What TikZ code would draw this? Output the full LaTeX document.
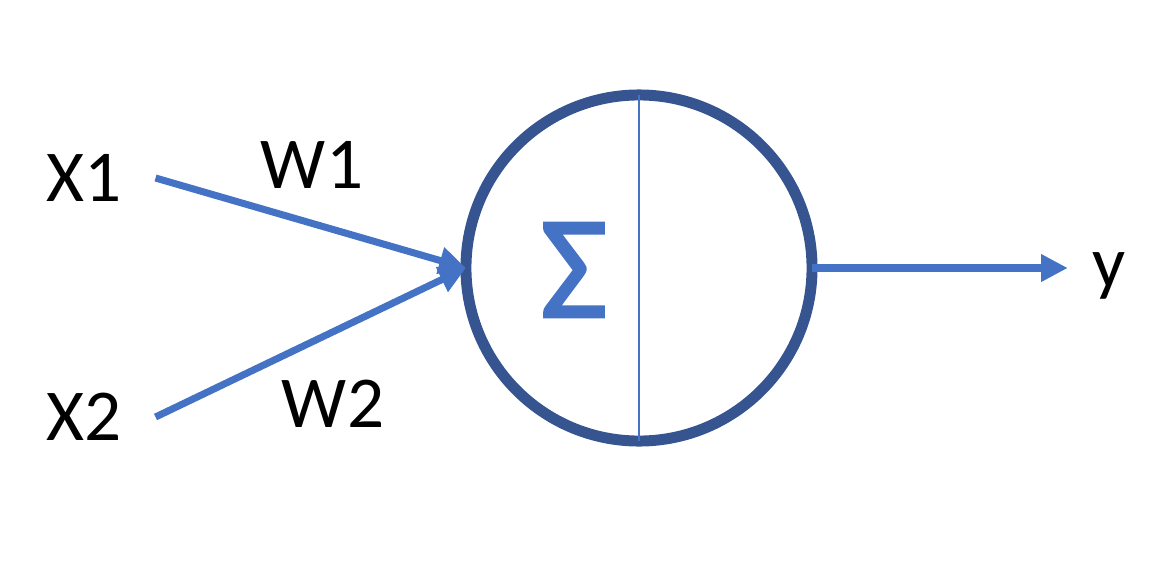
\documentclass[tikz,border=0pt]{standalone}
\usepackage{fontspec}
\setmainfont{Carlito}
\newfontface\sigface{Carlito}[FakeBold=2]
\usetikzlibrary{arrows.meta}

\definecolor{wireblue}{HTML}{4472C4}
\definecolor{ringblue}{HTML}{365590}

\tikzset{
  lbl/.style={font=\fontsize{52}{60}\selectfont, text=black},
  inlbl/.style={lbl, inner xsep=24pt},
  wire/.style={wireblue, line width=5pt, -{Triangle[length=19pt,width=18.5pt]}},
  neuron/.style={circle, draw=ringblue, line width=7.8pt, minimum size=8.65cm, outer sep=0pt}
}

\begin{document}
\begin{tikzpicture}[x=0.025cm, y=-0.025cm]
% Page size in pixels of the reference
\useasboundingbox (0, 0) rectangle (1166, 586);

% The neuron and its divider
\node[neuron] (n) at (639, 268) {};
\draw[wireblue, line width=1pt] (n.north) -- (n.south);
\node[font=\sigface\fontsize{104}{110}\selectfont, text=wireblue] (sig) at (574, 270) {Σ};

% Inputs, weights and output
\node[inlbl] (x1) at (84, 178) {X1};
\node[inlbl] (x2) at (84, 417) {X2};
\node[lbl, anchor=base] (w1) at (312, 188) {W1};
\node[lbl, anchor=base] (w2) at (333, 427) {W2};
\node[lbl] (yout) at (1109, 276) {y};

\draw[wire] (x1.east) -- (n.west);
\draw[wire] (x2.east) -- (n.west);
\draw[wire, shorten >=14pt] (n.east) -- (n.east -| yout.west);
\end{tikzpicture}
\end{document}
